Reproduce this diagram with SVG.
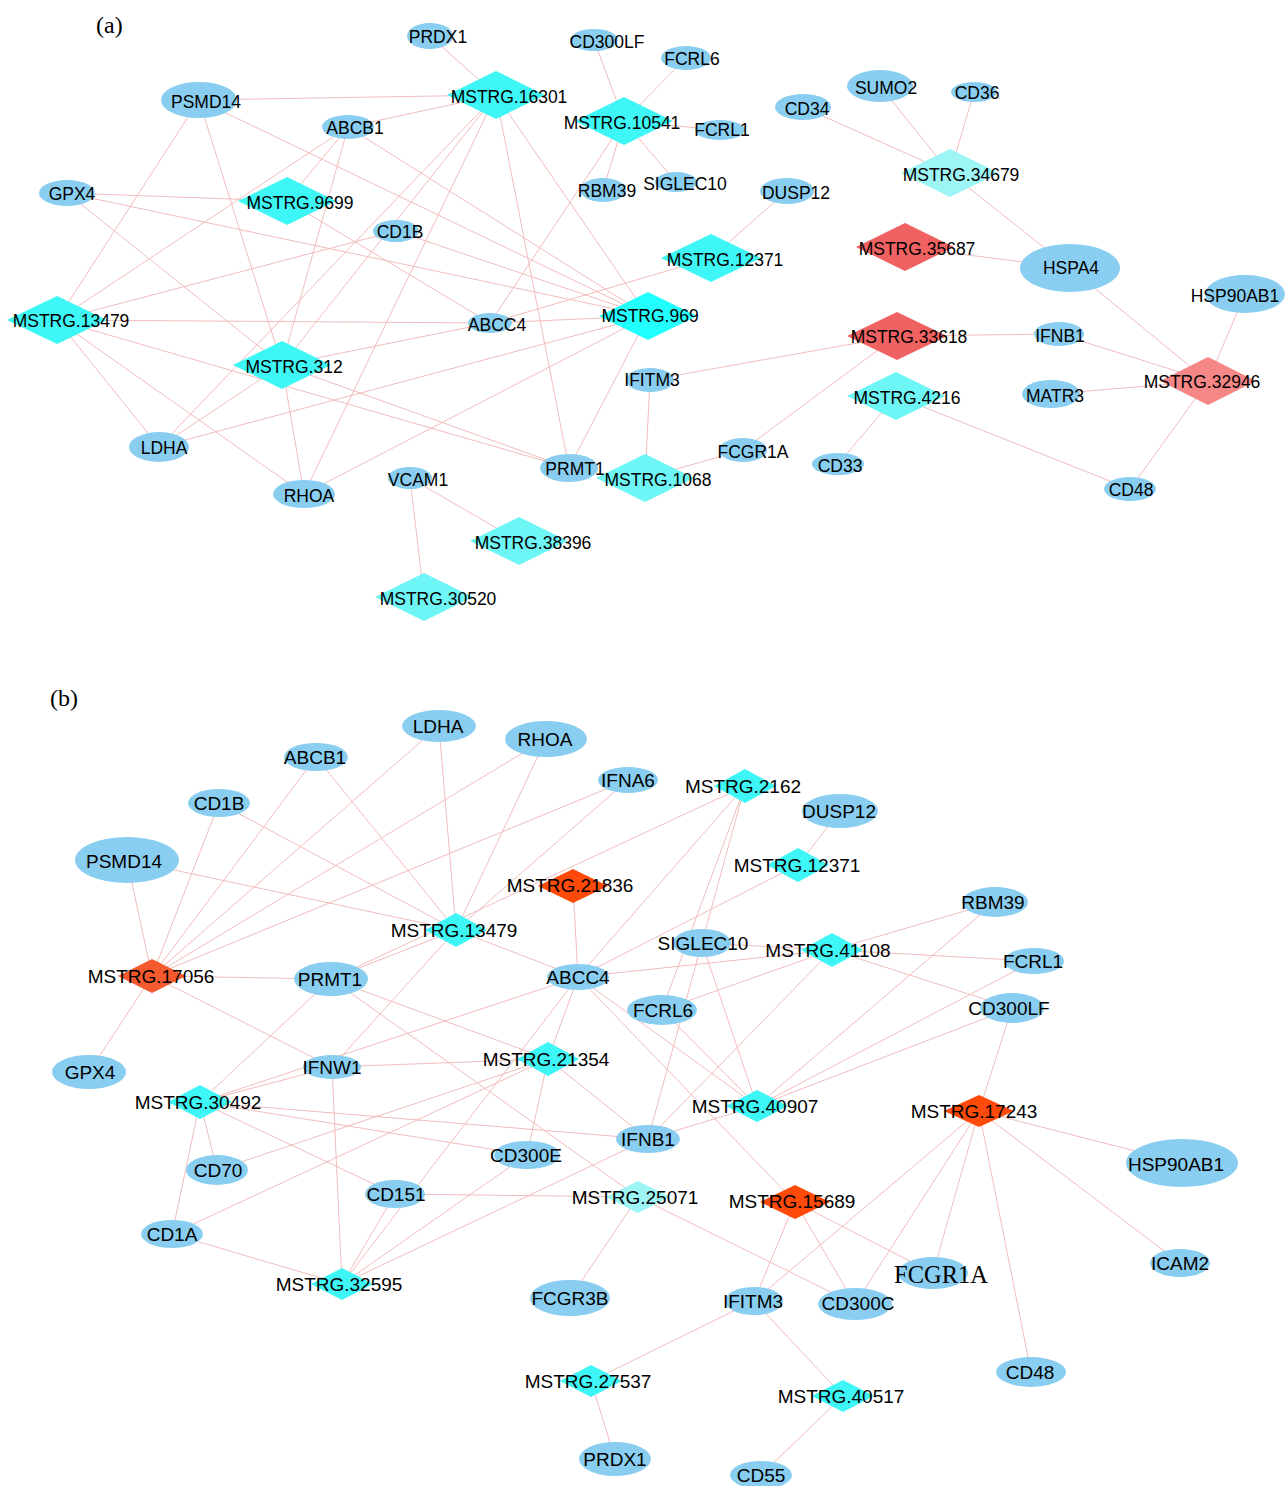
<svg xmlns="http://www.w3.org/2000/svg" width="1285" height="1486" viewBox="0 0 1285 1486">
<style>
.bg{fill:#ffffff}
.e line{stroke:#F2BCBC;stroke-width:1}
.n{fill:#89CEF0}
.c1{fill:#3FF6F6}
.c0{fill:#22FFFF}
.c2{fill:#6EF6F6}
.c3{fill:#9EF5F5}
.r1{fill:#F06262}
.r2{fill:#F58787}
.o1{fill:#FF4A0A}
.o2{fill:#F55A2E}
text{font-family:"Liberation Sans",Arial,sans-serif;fill:#000;text-anchor:middle}
.ta{font-size:17.5px}
.tb{font-size:19px}
.pl{font-family:"Liberation Serif","Times New Roman",serif;font-size:24px;text-anchor:start}
.ser{font-family:"Liberation Serif","Times New Roman",serif;font-size:24.5px}
</style>
<rect class="bg" x="0" y="0" width="1285" height="1486"/>
<text class="pl" x="96" y="33">(a)</text>
<text class="pl" x="50" y="706">(b)</text>
<g id="edges-a" class="e">
<line x1="430" y1="36" x2="496" y2="95"/>
<line x1="199" y1="100" x2="496" y2="95"/>
<line x1="348" y1="127" x2="496" y2="95"/>
<line x1="496" y1="95" x2="282" y2="365"/>
<line x1="496" y1="95" x2="159" y2="447"/>
<line x1="496" y1="95" x2="304" y2="494"/>
<line x1="496" y1="95" x2="569" y2="468"/>
<line x1="496" y1="95" x2="648" y2="316"/>
<line x1="199" y1="100" x2="57" y2="320"/>
<line x1="199" y1="100" x2="282" y2="365"/>
<line x1="199" y1="100" x2="648" y2="316"/>
<line x1="348" y1="127" x2="287" y2="201"/>
<line x1="348" y1="127" x2="57" y2="320"/>
<line x1="348" y1="127" x2="282" y2="365"/>
<line x1="348" y1="127" x2="648" y2="316"/>
<line x1="67" y1="193" x2="287" y2="201"/>
<line x1="67" y1="193" x2="648" y2="316"/>
<line x1="67" y1="193" x2="282" y2="365"/>
<line x1="287" y1="201" x2="490" y2="323"/>
<line x1="396" y1="231" x2="57" y2="320"/>
<line x1="396" y1="231" x2="648" y2="316"/>
<line x1="57" y1="320" x2="490" y2="323"/>
<line x1="57" y1="320" x2="569" y2="468"/>
<line x1="57" y1="320" x2="159" y2="447"/>
<line x1="57" y1="320" x2="304" y2="494"/>
<line x1="282" y1="365" x2="490" y2="323"/>
<line x1="282" y1="365" x2="569" y2="468"/>
<line x1="282" y1="365" x2="159" y2="447"/>
<line x1="282" y1="365" x2="304" y2="494"/>
<line x1="159" y1="447" x2="648" y2="316"/>
<line x1="304" y1="494" x2="648" y2="316"/>
<line x1="490" y1="323" x2="648" y2="316"/>
<line x1="569" y1="468" x2="648" y2="316"/>
<line x1="624" y1="121" x2="490" y2="323"/>
<line x1="711" y1="258" x2="490" y2="323"/>
<line x1="594" y1="40" x2="624" y2="121"/>
<line x1="686" y1="58" x2="624" y2="121"/>
<line x1="720" y1="130" x2="624" y2="121"/>
<line x1="603" y1="190" x2="624" y2="121"/>
<line x1="676" y1="182" x2="624" y2="121"/>
<line x1="711" y1="258" x2="787" y2="191"/>
<line x1="650" y1="380" x2="645" y2="478"/>
<line x1="650" y1="380" x2="897" y2="336"/>
<line x1="743" y1="450" x2="645" y2="478"/>
<line x1="743" y1="450" x2="897" y2="336"/>
<line x1="897" y1="336" x2="1059" y2="334"/>
<line x1="1059" y1="334" x2="1208" y2="381"/>
<line x1="1051" y1="394" x2="1208" y2="381"/>
<line x1="1245" y1="294" x2="1208" y2="381"/>
<line x1="1070" y1="268" x2="1208" y2="381"/>
<line x1="1130" y1="489" x2="1208" y2="381"/>
<line x1="896" y1="396" x2="838" y2="464"/>
<line x1="896" y1="396" x2="1130" y2="489"/>
<line x1="905" y1="247" x2="1070" y2="268"/>
<line x1="950" y1="173" x2="1070" y2="268"/>
<line x1="803" y1="107" x2="950" y2="173"/>
<line x1="880" y1="86" x2="950" y2="173"/>
<line x1="974" y1="92" x2="950" y2="173"/>
<line x1="410" y1="478" x2="519" y2="541"/>
<line x1="410" y1="478" x2="424" y2="597"/>
</g>
<g id="edges-b" class="e">
<line x1="439" y1="726" x2="152" y2="976"/>
<line x1="439" y1="726" x2="456" y2="930"/>
<line x1="546" y1="739" x2="152" y2="976"/>
<line x1="546" y1="739" x2="456" y2="930"/>
<line x1="316" y1="757" x2="152" y2="976"/>
<line x1="316" y1="757" x2="456" y2="930"/>
<line x1="219" y1="803" x2="152" y2="976"/>
<line x1="219" y1="803" x2="456" y2="930"/>
<line x1="127" y1="860" x2="152" y2="976"/>
<line x1="127" y1="860" x2="456" y2="930"/>
<line x1="628" y1="780" x2="152" y2="976"/>
<line x1="628" y1="780" x2="456" y2="930"/>
<line x1="152" y1="976" x2="331" y2="979"/>
<line x1="152" y1="976" x2="89" y2="1072"/>
<line x1="152" y1="976" x2="332" y2="1067"/>
<line x1="456" y1="930" x2="331" y2="979"/>
<line x1="456" y1="930" x2="332" y2="1067"/>
<line x1="456" y1="930" x2="578" y2="977"/>
<line x1="745" y1="786" x2="331" y2="979"/>
<line x1="745" y1="786" x2="578" y2="977"/>
<line x1="745" y1="786" x2="648" y2="1139"/>
<line x1="745" y1="786" x2="662" y2="1010"/>
<line x1="573" y1="886" x2="578" y2="977"/>
<line x1="798" y1="865" x2="840" y2="811"/>
<line x1="798" y1="865" x2="578" y2="977"/>
<line x1="578" y1="977" x2="832" y2="950"/>
<line x1="578" y1="977" x2="548" y2="1059"/>
<line x1="578" y1="977" x2="757" y2="1106"/>
<line x1="578" y1="977" x2="795" y2="1202"/>
<line x1="578" y1="977" x2="342" y2="1284"/>
<line x1="578" y1="977" x2="200" y2="1102"/>
<line x1="702" y1="943" x2="832" y2="950"/>
<line x1="702" y1="943" x2="757" y2="1106"/>
<line x1="832" y1="950" x2="995" y2="902"/>
<line x1="832" y1="950" x2="1034" y2="961"/>
<line x1="832" y1="950" x2="1012" y2="1008"/>
<line x1="832" y1="950" x2="662" y2="1010"/>
<line x1="832" y1="950" x2="648" y2="1139"/>
<line x1="757" y1="1106" x2="662" y2="1010"/>
<line x1="757" y1="1106" x2="648" y2="1139"/>
<line x1="757" y1="1106" x2="995" y2="902"/>
<line x1="757" y1="1106" x2="1034" y2="961"/>
<line x1="757" y1="1106" x2="1012" y2="1008"/>
<line x1="332" y1="1067" x2="548" y2="1059"/>
<line x1="332" y1="1067" x2="200" y2="1102"/>
<line x1="332" y1="1067" x2="342" y2="1284"/>
<line x1="331" y1="979" x2="200" y2="1102"/>
<line x1="331" y1="979" x2="548" y2="1059"/>
<line x1="331" y1="979" x2="638" y2="1197"/>
<line x1="200" y1="1102" x2="217" y2="1170"/>
<line x1="200" y1="1102" x2="172" y2="1234"/>
<line x1="200" y1="1102" x2="648" y2="1139"/>
<line x1="200" y1="1102" x2="527" y2="1155"/>
<line x1="200" y1="1102" x2="395" y2="1194"/>
<line x1="548" y1="1059" x2="527" y2="1155"/>
<line x1="548" y1="1059" x2="648" y2="1139"/>
<line x1="548" y1="1059" x2="217" y2="1170"/>
<line x1="548" y1="1059" x2="172" y2="1234"/>
<line x1="172" y1="1234" x2="342" y2="1284"/>
<line x1="342" y1="1284" x2="395" y2="1194"/>
<line x1="342" y1="1284" x2="527" y2="1155"/>
<line x1="342" y1="1284" x2="648" y2="1139"/>
<line x1="395" y1="1194" x2="638" y2="1197"/>
<line x1="638" y1="1197" x2="570" y2="1298"/>
<line x1="638" y1="1197" x2="855" y2="1304"/>
<line x1="795" y1="1202" x2="754" y2="1301"/>
<line x1="795" y1="1202" x2="855" y2="1304"/>
<line x1="795" y1="1202" x2="933" y2="1273"/>
<line x1="979" y1="1111" x2="1012" y2="1008"/>
<line x1="979" y1="1111" x2="1182" y2="1163"/>
<line x1="979" y1="1111" x2="1180" y2="1263"/>
<line x1="979" y1="1111" x2="1031" y2="1372"/>
<line x1="979" y1="1111" x2="933" y2="1273"/>
<line x1="979" y1="1111" x2="855" y2="1304"/>
<line x1="979" y1="1111" x2="754" y2="1301"/>
<line x1="754" y1="1301" x2="591" y2="1381"/>
<line x1="754" y1="1301" x2="843" y2="1396"/>
<line x1="591" y1="1381" x2="615" y2="1459"/>
<line x1="843" y1="1396" x2="761" y2="1475"/>
</g>
<g id="nodes-a">
<g id="a-MSTRG16301"><polygon class="c1" points="496,71 545,95 496,119 447,95"/><text class="ta" x="509" y="103">MSTRG.16301</text></g>
<g id="a-MSTRG10541"><polygon class="c1" points="624,97 673,121 624,145 575,121"/><text class="ta" x="622" y="129">MSTRG.10541</text></g>
<g id="a-MSTRG9699"><polygon class="c1" points="287,177 336,201 287,225 238,201"/><text class="ta" x="300" y="209">MSTRG.9699</text></g>
<g id="a-MSTRG12371"><polygon class="c1" points="711,234 761,258 711,282 661,258"/><text class="ta" x="725" y="266">MSTRG.12371</text></g>
<g id="a-MSTRG969"><polygon class="c0" points="648,292 697,316 648,340 599,316"/><text class="ta" x="650" y="322">MSTRG.969</text></g>
<g id="a-MSTRG13479"><polygon class="c1" points="57,296 107,320 57,344 7,320"/><text class="ta" x="71" y="327">MSTRG.13479</text></g>
<g id="a-MSTRG312"><polygon class="c1" points="282,341 331,365 282,389 233,365"/><text class="ta" x="294" y="373">MSTRG.312</text></g>
<g id="a-MSTRG1068"><polygon class="c2" points="645,454 694,478 645,502 596,478"/><text class="ta" x="658" y="486">MSTRG.1068</text></g>
<g id="a-MSTRG38396"><polygon class="c2" points="519,517 568,541 519,565 470,541"/><text class="ta" x="533" y="549">MSTRG.38396</text></g>
<g id="a-MSTRG30520"><polygon class="c2" points="424,573 473,597 424,621 375,597"/><text class="ta" x="438" y="605">MSTRG.30520</text></g>
<g id="a-MSTRG34679"><polygon class="c3" points="950,149 999,173 950,197 901,173"/><text class="ta" x="961" y="181">MSTRG.34679</text></g>
<g id="a-MSTRG35687"><polygon class="r1" points="905,223 954,247 905,271 856,247"/><text class="ta" x="917" y="255">MSTRG.35687</text></g>
<g id="a-MSTRG33618"><polygon class="r1" points="897,312 947,336 897,360 847,336"/><text class="ta" x="909" y="343">MSTRG.33618</text></g>
<g id="a-MSTRG4216"><polygon class="c2" points="896,372 945,396 896,420 847,396"/><text class="ta" x="907" y="404">MSTRG.4216</text></g>
<g id="a-MSTRG32946"><polygon class="r2" points="1208,357 1256,381 1208,405 1160,381"/><text class="ta" x="1202" y="388">MSTRG.32946</text></g>
<g id="a-PRDX1"><ellipse class="n" cx="430" cy="36" rx="23" ry="13"/><text class="ta" x="438" y="43">PRDX1</text></g>
<g id="a-CD300LF"><ellipse class="n" cx="594" cy="40" rx="24" ry="11"/><text class="ta" x="607" y="48">CD300LF</text></g>
<g id="a-FCRL6"><ellipse class="n" cx="686" cy="58" rx="25" ry="12"/><text class="ta" x="692" y="65">FCRL6</text></g>
<g id="a-PSMD14"><ellipse class="n" cx="199" cy="100" rx="38" ry="18"/><text class="ta" x="206" y="108">PSMD14</text></g>
<g id="a-ABCB1"><ellipse class="n" cx="348" cy="127" rx="26" ry="12"/><text class="ta" x="355" y="134">ABCB1</text></g>
<g id="a-GPX4"><ellipse class="n" cx="67" cy="193" rx="28" ry="13"/><text class="ta" x="72" y="200">GPX4</text></g>
<g id="a-CD1B"><ellipse class="n" cx="396" cy="231" rx="23" ry="11"/><text class="ta" x="400" y="238">CD1B</text></g>
<g id="a-RBM39"><ellipse class="n" cx="603" cy="190" rx="23" ry="12"/><text class="ta" x="607" y="197">RBM39</text></g>
<g id="a-SIGLEC10"><ellipse class="n" cx="676" cy="182" rx="21" ry="10"/><text class="ta" x="685" y="190">SIGLEC10</text></g>
<g id="a-DUSP12"><ellipse class="n" cx="787" cy="191" rx="27" ry="13"/><text class="ta" x="796" y="199">DUSP12</text></g>
<g id="a-FCRL1"><ellipse class="n" cx="720" cy="130" rx="25" ry="10"/><text class="ta" x="722" y="136">FCRL1</text></g>
<g id="a-CD34"><ellipse class="n" cx="803" cy="107" rx="28" ry="13"/><text class="ta" x="807" y="115">CD34</text></g>
<g id="a-SUMO2"><ellipse class="n" cx="880" cy="86" rx="33" ry="16"/><text class="ta" x="886" y="94">SUMO2</text></g>
<g id="a-CD36"><ellipse class="n" cx="974" cy="92" rx="23" ry="10"/><text class="ta" x="977" y="99">CD36</text></g>
<g id="a-HSPA4"><ellipse class="n" cx="1070" cy="268" rx="50" ry="24"/><text class="ta" x="1071" y="274">HSPA4</text></g>
<g id="a-HSP90AB1"><ellipse class="n" cx="1245" cy="294" rx="40" ry="19"/><text class="ta" x="1235" y="302">HSP90AB1</text></g>
<g id="a-IFNB1"><ellipse class="n" cx="1059" cy="334" rx="25" ry="12"/><text class="ta" x="1060" y="342">IFNB1</text></g>
<g id="a-MATR3"><ellipse class="n" cx="1051" cy="394" rx="29" ry="14"/><text class="ta" x="1055" y="402">MATR3</text></g>
<g id="a-CD48"><ellipse class="n" cx="1130" cy="489" rx="26" ry="12"/><text class="ta" x="1131" y="496">CD48</text></g>
<g id="a-CD33"><ellipse class="n" cx="838" cy="464" rx="26" ry="11"/><text class="ta" x="840" y="472">CD33</text></g>
<g id="a-FCGR1A"><ellipse class="n" cx="743" cy="450" rx="24" ry="12"/><text class="ta" x="753" y="458">FCGR1A</text></g>
<g id="a-IFITM3"><ellipse class="n" cx="650" cy="380" rx="24" ry="12"/><text class="ta" x="652" y="386">IFITM3</text></g>
<g id="a-LDHA"><ellipse class="n" cx="159" cy="447" rx="30" ry="15"/><text class="ta" x="164" y="454">LDHA</text></g>
<g id="a-RHOA"><ellipse class="n" cx="304" cy="494" rx="31" ry="14"/><text class="ta" x="309" y="502">RHOA</text></g>
<g id="a-VCAM1"><ellipse class="n" cx="410" cy="478" rx="22" ry="11"/><text class="ta" x="418" y="486">VCAM1</text></g>
<g id="a-PRMT1"><ellipse class="n" cx="569" cy="468" rx="29" ry="14"/><text class="ta" x="575" y="475">PRMT1</text></g>
<g id="a-ABCC4"><ellipse class="n" cx="490" cy="323" rx="22" ry="10"/><text class="ta" x="497" y="331">ABCC4</text></g>
</g>
<g id="nodes-b">
<g id="b-MSTRG21836"><polygon class="o1" points="573,869 608,886 573,903 538,886"/><text class="tb" x="570" y="892">MSTRG.21836</text></g>
<g id="b-MSTRG13479"><polygon class="c1" points="456,913 487,930 456,947 425,930"/><text class="tb" x="454" y="937">MSTRG.13479</text></g>
<g id="b-MSTRG2162"><polygon class="c1" points="745,769 776,786 745,803 714,786"/><text class="tb" x="743" y="793">MSTRG.2162</text></g>
<g id="b-MSTRG12371"><polygon class="c1" points="798,848 829,865 798,882 767,865"/><text class="tb" x="797" y="872">MSTRG.12371</text></g>
<g id="b-MSTRG41108"><polygon class="c1" points="832,933 863,950 832,967 801,950"/><text class="tb" x="828" y="957">MSTRG.41108</text></g>
<g id="b-MSTRG17056"><polygon class="o2" points="152,959 186,976 152,993 118,976"/><text class="tb" x="151" y="983">MSTRG.17056</text></g>
<g id="b-MSTRG21354"><polygon class="c1" points="548,1042 579,1059 548,1076 517,1059"/><text class="tb" x="546" y="1066">MSTRG.21354</text></g>
<g id="b-MSTRG30492"><polygon class="c1" points="200,1085 232,1102 200,1119 168,1102"/><text class="tb" x="198" y="1109">MSTRG.30492</text></g>
<g id="b-MSTRG40907"><polygon class="c1" points="757,1090 788,1106 757,1122 726,1106"/><text class="tb" x="755" y="1113">MSTRG.40907</text></g>
<g id="b-MSTRG17243"><polygon class="o1" points="979,1095 1014,1111 979,1127 944,1111"/><text class="tb" x="974" y="1118">MSTRG.17243</text></g>
<g id="b-MSTRG25071"><polygon class="c3" points="638,1181 670,1197 638,1213 606,1197"/><text class="tb" x="635" y="1204">MSTRG.25071</text></g>
<g id="b-MSTRG15689"><polygon class="o1" points="795,1185 830,1202 795,1219 760,1202"/><text class="tb" x="792" y="1208">MSTRG.15689</text></g>
<g id="b-MSTRG32595"><polygon class="c1" points="342,1268 373,1284 342,1300 311,1284"/><text class="tb" x="339" y="1291">MSTRG.32595</text></g>
<g id="b-MSTRG27537"><polygon class="c1" points="591,1365 622,1381 591,1397 560,1381"/><text class="tb" x="588" y="1388">MSTRG.27537</text></g>
<g id="b-MSTRG40517"><polygon class="c1" points="843,1380 874,1396 843,1412 812,1396"/><text class="tb" x="841" y="1403">MSTRG.40517</text></g>
<g id="b-LDHA"><ellipse class="n" cx="439" cy="726" rx="37" ry="16"/><text class="tb" x="438" y="733">LDHA</text></g>
<g id="b-RHOA"><ellipse class="n" cx="546" cy="739" rx="41" ry="18"/><text class="tb" x="545" y="746">RHOA</text></g>
<g id="b-ABCB1"><ellipse class="n" cx="316" cy="757" rx="32" ry="14"/><text class="tb" x="315" y="764">ABCB1</text></g>
<g id="b-IFNA6"><ellipse class="n" cx="628" cy="780" rx="30" ry="13"/><text class="tb" x="628" y="787">IFNA6</text></g>
<g id="b-CD1B"><ellipse class="n" cx="219" cy="803" rx="31" ry="14"/><text class="tb" x="219" y="810">CD1B</text></g>
<g id="b-PSMD14"><ellipse class="n" cx="127" cy="860" rx="52" ry="23"/><text class="tb" x="124" y="868">PSMD14</text></g>
<g id="b-DUSP12"><ellipse class="n" cx="840" cy="811" rx="38" ry="17"/><text class="tb" x="839" y="818">DUSP12</text></g>
<g id="b-RBM39"><ellipse class="n" cx="995" cy="902" rx="33" ry="15"/><text class="tb" x="993" y="909">RBM39</text></g>
<g id="b-SIGLEC10"><ellipse class="n" cx="702" cy="943" rx="29" ry="14"/><text class="tb" x="703" y="950">SIGLEC10</text></g>
<g id="b-FCRL1"><ellipse class="n" cx="1034" cy="961" rx="30" ry="13"/><text class="tb" x="1033" y="968">FCRL1</text></g>
<g id="b-CD300LF"><ellipse class="n" cx="1012" cy="1008" rx="32" ry="15"/><text class="tb" x="1009" y="1015">CD300LF</text></g>
<g id="b-FCRL6"><ellipse class="n" cx="662" cy="1010" rx="35" ry="15"/><text class="tb" x="663" y="1017">FCRL6</text></g>
<g id="b-PRMT1"><ellipse class="n" cx="331" cy="979" rx="37" ry="17"/><text class="tb" x="330" y="986">PRMT1</text></g>
<g id="b-ABCC4"><ellipse class="n" cx="578" cy="977" rx="31" ry="13"/><text class="tb" x="578" y="984">ABCC4</text></g>
<g id="b-GPX4"><ellipse class="n" cx="89" cy="1072" rx="37" ry="17"/><text class="tb" x="90" y="1079">GPX4</text></g>
<g id="b-IFNW1"><ellipse class="n" cx="332" cy="1067" rx="29" ry="12"/><text class="tb" x="332" y="1074">IFNW1</text></g>
<g id="b-IFNB1"><ellipse class="n" cx="648" cy="1139" rx="32" ry="14"/><text class="tb" x="648" y="1146">IFNB1</text></g>
<g id="b-HSP90AB1"><ellipse class="n" cx="1182" cy="1163" rx="56" ry="24"/><text class="tb" x="1176" y="1171">HSP90AB1</text></g>
<g id="b-CD70"><ellipse class="n" cx="217" cy="1170" rx="31" ry="15"/><text class="tb" x="218" y="1177">CD70</text></g>
<g id="b-CD300E"><ellipse class="n" cx="527" cy="1155" rx="33" ry="14"/><text class="tb" x="526" y="1162">CD300E</text></g>
<g id="b-CD151"><ellipse class="n" cx="395" cy="1194" rx="30" ry="14"/><text class="tb" x="396" y="1201">CD151</text></g>
<g id="b-CD1A"><ellipse class="n" cx="172" cy="1234" rx="31" ry="14"/><text class="tb" x="172" y="1241">CD1A</text></g>
<g id="b-FCGR3B"><ellipse class="n" cx="570" cy="1298" rx="40" ry="18"/><text class="tb" x="570" y="1305">FCGR3B</text></g>
<g id="b-PRDX1"><ellipse class="n" cx="615" cy="1459" rx="36" ry="17"/><text class="tb" x="615" y="1466">PRDX1</text></g>
<g id="b-ICAM2"><ellipse class="n" cx="1180" cy="1263" rx="30" ry="14"/><text class="tb" x="1180" y="1270">ICAM2</text></g>
<g id="b-FCGR1A"><ellipse class="n" cx="933" cy="1273" rx="35" ry="16"/><text class="ser" x="941" y="1283">FCGR1A</text></g>
<g id="b-IFITM3"><ellipse class="n" cx="754" cy="1301" rx="29" ry="14"/><text class="tb" x="753" y="1308">IFITM3</text></g>
<g id="b-CD300C"><ellipse class="n" cx="855" cy="1304" rx="37" ry="16"/><text class="tb" x="858" y="1310">CD300C</text></g>
<g id="b-CD48"><ellipse class="n" cx="1031" cy="1372" rx="35" ry="15"/><text class="tb" x="1030" y="1379">CD48</text></g>
<g id="b-CD55"><ellipse class="n" cx="761" cy="1475" rx="31" ry="14"/><text class="tb" x="761" y="1482">CD55</text></g>
</g>
</svg>
